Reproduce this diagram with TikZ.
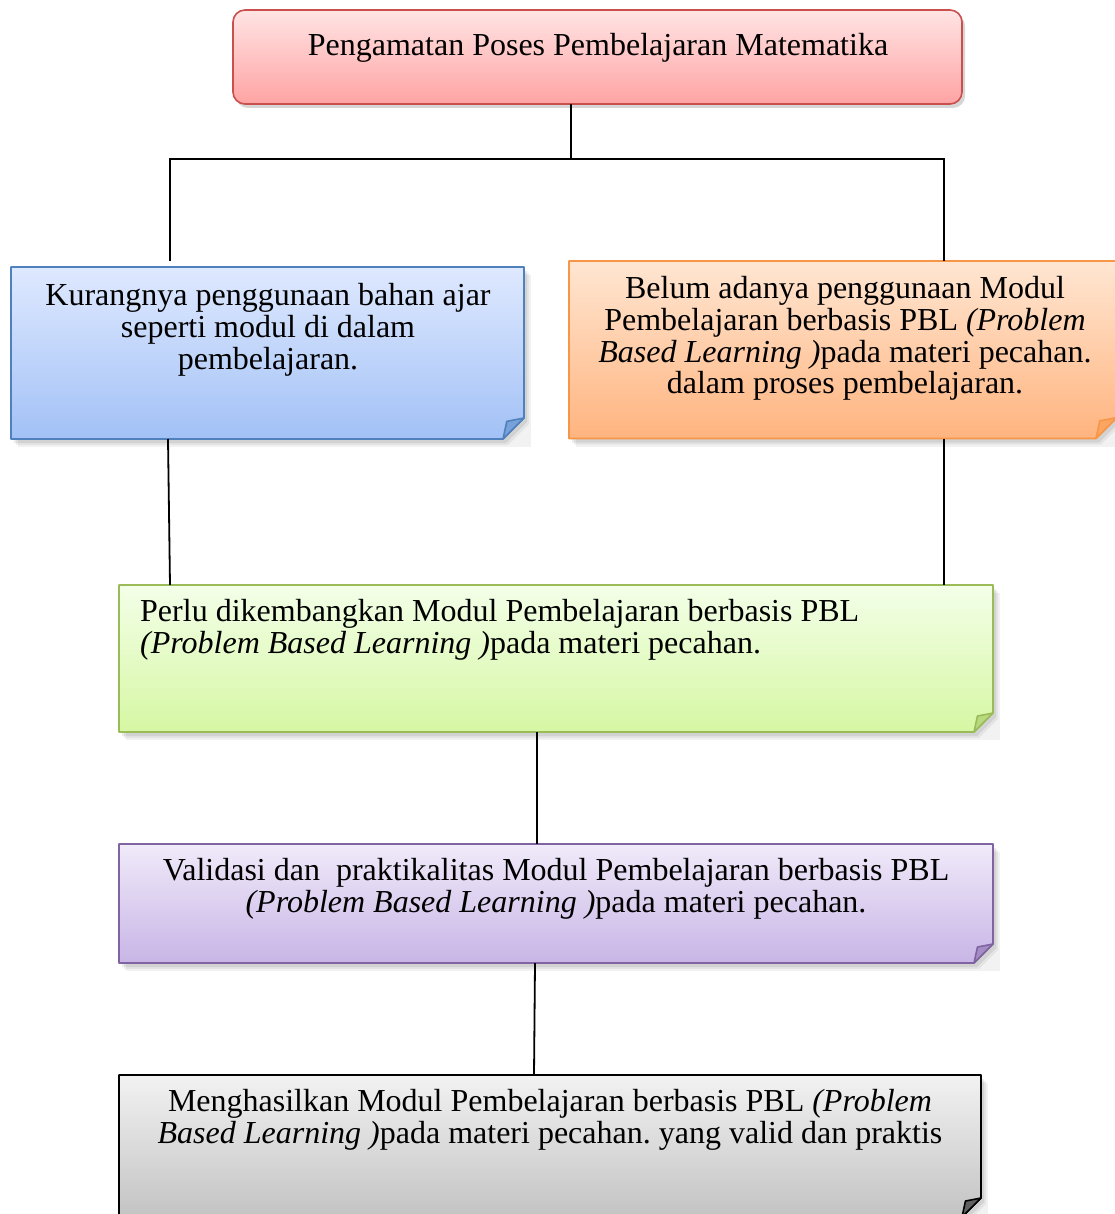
\documentclass[tikz,border=0pt]{standalone}
\usepackage{fontspec}
\setmainfont{Liberation Serif}
\usetikzlibrary{calc,shadows}
\pgfdeclarelayer{bg}
\pgfsetlayers{bg,main}
\frenchspacing
\definecolor{redB}{HTML}{C9504D}
\definecolor{redT}{HTML}{FFE4E4}
\definecolor{redBt}{HTML}{FFA3A3}
\definecolor{bluB}{HTML}{4F81BD}
\definecolor{bluT}{HTML}{DFE9FF}
\definecolor{bluBt}{HTML}{A2C1F6}
\definecolor{oraB}{HTML}{F79646}
\definecolor{oraT}{HTML}{FFE6D2}
\definecolor{oraBt}{HTML}{FFB47F}
\definecolor{grnB}{HTML}{9BBB59}
\definecolor{grnT}{HTML}{F3FFE8}
\definecolor{grnBt}{HTML}{D6F7A3}
\definecolor{purB}{HTML}{8064A2}
\definecolor{purT}{HTML}{F0EAF9}
\definecolor{purBt}{HTML}{C8B5E6}
\definecolor{gryB}{HTML}{000000}
\definecolor{gryT}{HTML}{F2F2F2}
\definecolor{gryBt}{HTML}{C3C3C3}
\newcommand{\foldedbox}[5]{%
  \begin{pgfonlayer}{bg}
  \path[fill=black, opacity=.05] ($(#1.north west)+(7,8)$) -- ($(#1.north east)+(7,8)$) -- ($(#1.south east)+(7,8)$) -- ($(#1.south west)+(7,8)$) -- cycle;
  \path[fill=black, opacity=.06] ($(#1.north west)+(5,6)$) -- ($(#1.north east)+(5,6)$) -- ($(#1.south east)+(5,-#5+6)$) -- ($(#1.south east)+(-#5+5,6)$) -- ($(#1.south west)+(5,6)$) -- cycle;
  \path[fill=black, opacity=.08] ($(#1.north west)+(3,4)$) -- ($(#1.north east)+(3,4)$) -- ($(#1.south east)+(3,-#5+4)$) -- ($(#1.south east)+(-#5+3,4)$) -- ($(#1.south west)+(3,4)$) -- cycle;
  \path[top color=#2, bottom color=#3, draw=#4, line width=1.6pt, line join=round]
    (#1.north west) -- (#1.north east) -- ($(#1.south east)+(0,-#5)$)
    -- ($(#1.south east)+(-#5,0)$) -- (#1.south west) -- cycle;
  \path[fill=#4!50!#3, draw=#4, line width=1.6pt, line join=round]
    ($(#1.south east)+(0,-#5)$) -- ($(#1.south east)+(-0.82*#5,-0.84*#5)$)
    -- ($(#1.south east)+(-#5,0)$) -- cycle;
  \end{pgfonlayer}}
\begin{document}
\begin{tikzpicture}[x=1pt,y=-1pt,
  boxnode/.style={inner sep=0pt, outer sep=0pt, draw=none, rectangle},
  txt/.style={inner sep=0pt, align=center, anchor=north, font=\fontsize{32}{31.6}\selectfont},
  conn/.style={draw=black, line width=1.8pt}]
\path[use as bounding box, clip] (0,0) rectangle (1115,1214);

% top box
\node[boxnode, draw=redB, line width=1.6pt, rounded corners=12pt, top color=redT, bottom color=redBt,
      minimum width=729pt, minimum height=94pt,
      drop shadow={shadow xshift=3pt, shadow yshift=-4pt, opacity=.16, fill=black}] (top) at (597.5,57) {};
\node[txt] (ttop) at (598,33.4) {Pengamatan Poses Pembelajaran Matematika};

% folded boxes
\node[boxnode, minimum width=513pt, minimum height=172pt] (blue) at (267.5,353) {};
\foldedbox{blue}{bluT}{bluBt}{bluB}{21}
\node[txt] (tblue) at (268,283.4) {Kurangnya penggunaan bahan ajar\\ seperti modul di dalam\\ pembelajaran.};

\node[boxnode, minimum width=548pt, minimum height=177.5pt] (orange) at (843,349.75) {};
\foldedbox{orange}{oraT}{oraBt}{oraB}{21}
\node[txt] (torange) at (845,276.4) {Belum adanya penggunaan Modul\\ Pembelajaran berbasis PBL \textit{(Problem}\\ \textit{Based Learning )}pada materi pecahan.\\ dalam proses pembelajaran.};

\node[boxnode, minimum width=874pt, minimum height=147pt] (green) at (556,658.5) {};
\foldedbox{green}{grnT}{grnBt}{grnB}{19}
\node[txt, align=left, anchor=north west] (tgreen) at (140,599.4) {Perlu dikembangkan Modul Pembelajaran berbasis PBL\\ \textit{(Problem Based Learning )}pada materi pecahan.};

\node[boxnode, minimum width=874pt, minimum height=119pt] (purple) at (556,903.5) {};
\foldedbox{purple}{purT}{purBt}{purB}{19}
\node[txt] (tpurple) at (556,858.4) {Validasi dan~ praktikalitas Modul Pembelajaran berbasis PBL\\ \textit{(Problem Based Learning )}pada materi pecahan.};

\node[boxnode, minimum width=862pt, minimum height=142pt] (gray) at (550,1146) {};
\foldedbox{gray}{gryT}{gryBt}{gryB}{19}
\node[txt] (tgray) at (550,1089.4) {Menghasilkan Modul Pembelajaran berbasis PBL \textit{(Problem}\\ \textit{Based Learning )}pada materi pecahan. yang valid dan praktis};

% connectors
\coordinate (jm) at (571,159);
\coordinate (jl) at (170,159);
\coordinate (jr) at (944,159);
\draw[conn] (top.south -| jm) -- (jm);
\draw[conn, line cap=rect] (jl) -- (jr);
\draw[conn] (jl) -- ($(jl |- blue.north)+(0,-6)$);
\draw[conn] (jr) -- (jr |- orange.north);
\draw[conn] ($(blue.south west)+(157,0)$) -- ($(green.north west)+(51,0)$);
\draw[conn] (orange.south -| jr) -- (green.north -| jr);
\draw[conn] ($(green.south west)+(418,0)$) -- ($(purple.north west)+(418,0)$);
\draw[conn] ($(purple.south west)+(416,0)$) -- ($(gray.north west)+(415,0)$);
\end{tikzpicture}
\end{document}
